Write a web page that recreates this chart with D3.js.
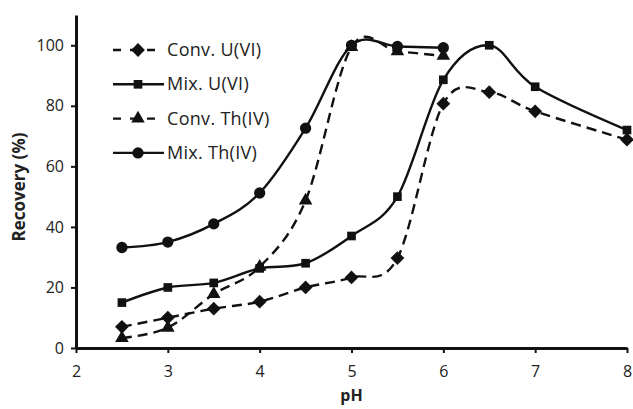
<!DOCTYPE html>
<html>
<head>
<meta charset="utf-8">
<script src="https://cdn.jsdelivr.net/npm/d3@7"></script>
<style>
  body { margin: 0; background: #fff; }
  text { font-family: "Open Sans", sans-serif; fill: #222; }
</style>
</head>
<body>
<div id="chart"></div>
<script>
// values
const phConv = [2.5, 3, 3.5, 4, 4.5, 5, 5.5, 6, 6.5, 7, 8];
const convU = [7, 10, 13, 15.3, 20, 23.3, 29.7, 80.7, 84.5, 78.2, 68.8];
const mixU = [15, 20, 21.5, 26.3, 28, 37, 50, 88.6, 100, 86.3, 72];
const phTh = [2.5, 3, 3.5, 4, 4.5, 5, 5.5, 6];
const convTh = [3.3, 6.7, 17.8, 26.8, 48.7, 99.4, 98, 96.5];
const mixTh = [33.2, 35, 41, 51.2, 72.6, 100, 99.6, 99.2];
const xTicks = [2, 3, 4, 5, 6, 7, 8];
const yTicks = [0, 20, 40, 60, 80, 100];

const series = [
  {name: "Conv. U(VI)", x: phConv, y: convU, dash: "10,6", sym: "diamond", size: 95},
  {name: "Mix. U(VI)", x: phConv, y: mixU, dash: null, sym: d3.symbolSquare, size: 75},
  {name: "Conv. Th(IV)", x: phTh, y: convTh, dash: "10,6", sym: d3.symbolTriangle, size: 80},
  {name: "Mix. Th(IV)", x: phTh, y: mixTh, dash: null, sym: d3.symbolCircle, size: 100}
];

const width = 633, height = 409;
const margin = {left: 76, top: 15, right: 6, bottom: 61};

const svg = d3.select("#chart").append("svg")
  .attr("width", width)
  .attr("height", height);

const x = d3.scaleLinear().domain([2, 8]).range([margin.left, width - margin.right]);
const y = d3.scaleLinear().domain([0, 110]).range([height - margin.bottom, margin.top]);

// axes
const xAxis = svg.append("g")
  .attr("transform", "translate(0," + y(0) + ")")
  .call(d3.axisBottom(x).tickValues(xTicks).tickFormat(d3.format("d"))
    .tickSize(5).tickPadding(13).tickSizeOuter(0));
const yAxis = svg.append("g")
  .attr("transform", "translate(" + x(2) + ",0)")
  .call(d3.axisLeft(y).tickValues(yTicks).tickFormat(d3.format("d"))
    .tickSize(5).tickPadding(7).tickSizeOuter(0));

[xAxis, yAxis].forEach(function(a) {
  a.select(".domain").attr("stroke", "#111").attr("stroke-width", 3);
  a.selectAll(".tick line").attr("stroke", "#111").attr("stroke-width", 2);
  a.selectAll(".tick text").style("font-size", "16px").attr("fill", "#222");
});

svg.append("text")
  .attr("x", x(5)).attr("y", 401)
  .attr("text-anchor", "middle")
  .style("font-size", "16px").style("font-weight", "bold")
  .text("pH");

svg.append("text")
  .attr("transform", "translate(25,187) rotate(-90)")
  .attr("text-anchor", "middle")
  .style("font-size", "17px").style("font-weight", "bold")
  .text("Recovery (%)");

const line = d3.line().curve(d3.curveCardinal.tension(0));

function marker(sel, s, px, py) {
  const isDiamond = s.sym === "diamond";
  sel.append("path")
    .attr("transform", "translate(" + px + "," + py + ")" + (isDiamond ? " rotate(45)" : ""))
    .attr("d", d3.symbol().type(isDiamond ? d3.symbolSquare : s.sym).size(s.size))
    .attr("fill", "#111");
}

series.forEach(function(s) {
  const pts = s.x.map((v, i) => [x(v), y(s.y[i])]);
  svg.append("path")
    .attr("d", line(pts))
    .attr("fill", "none")
    .attr("stroke", "#111")
    .attr("stroke-width", 2.4)
    .attr("stroke-dasharray", s.dash);
  const g = svg.append("g");
  pts.forEach(p => marker(g, s, p[0], p[1]));
});

// legend
const legend = svg.append("g");
series.forEach(function(s, i) {
  const ly = 50 + i * 34.3;
  legend.append("line")
    .attr("x1", 113).attr("x2", 164)
    .attr("y1", ly).attr("y2", ly)
    .attr("stroke", "#111").attr("stroke-width", 2.4)
    .attr("stroke-dasharray", s.dash ? "8,9" : null);
  marker(legend, s, 138, ly);
  legend.append("text")
    .attr("x", 167).attr("y", ly + 6)
    .style("font-size", "18px")
    .style("letter-spacing", "0.3px")
    .text(s.name);
});
</script>
</body>
</html>
